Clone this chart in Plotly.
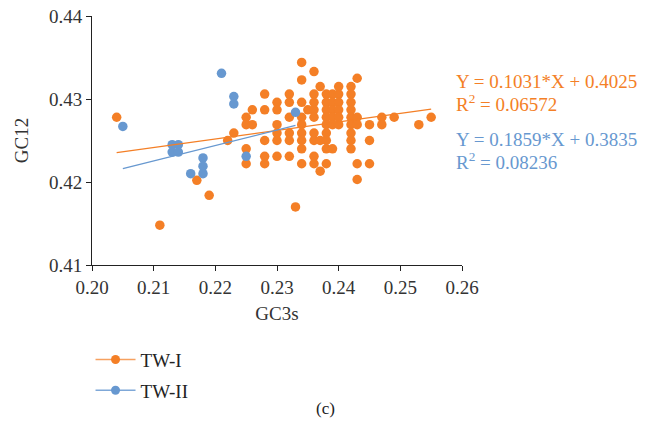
import plotly.graph_objects as go

# ---- data ----
tw1_x = [0.204, 0.211, 0.217, 0.219, 0.222, 0.223,
         0.225, 0.225, 0.225, 0.225,
         0.226, 0.226,
         0.228, 0.228, 0.228, 0.228, 0.228,
         0.230, 0.230, 0.230, 0.230, 0.230, 0.230,
         0.232, 0.232, 0.232, 0.232, 0.232, 0.232,
         0.233,
         0.234, 0.234, 0.234, 0.234, 0.234, 0.234, 0.234, 0.234, 0.234,
         0.235,
         0.236, 0.236, 0.236, 0.236, 0.236, 0.236, 0.236, 0.236, 0.236,
         0.237, 0.237, 0.237,
         0.238, 0.238, 0.238, 0.238, 0.238, 0.238, 0.238, 0.238, 0.238,
         0.239, 0.239, 0.239, 0.239, 0.239, 0.239,
         0.240, 0.240, 0.240, 0.240, 0.240, 0.240,
         0.242, 0.242, 0.242, 0.242, 0.242, 0.242, 0.242, 0.242, 0.242,
         0.243, 0.243, 0.243, 0.243, 0.243,
         0.245, 0.245, 0.245,
         0.247, 0.247,
         0.249, 0.253, 0.255]
tw1_y = [0.4278, 0.4148, 0.4202, 0.4184, 0.4250, 0.4259,
         0.4278, 0.4269, 0.4240, 0.4222,
         0.4287, 0.4269,
         0.4306, 0.4287, 0.4250, 0.4231, 0.4222,
         0.4296, 0.4287, 0.4269, 0.4259, 0.4250, 0.4231,
         0.4306, 0.4296, 0.4278, 0.4259, 0.4250, 0.4231,
         0.4170,
         0.4344, 0.4323, 0.4296, 0.4278, 0.4269, 0.4259, 0.4250, 0.4240, 0.4222,
         0.4287,
         0.4333, 0.4306, 0.4296, 0.4287, 0.4278, 0.4259, 0.4250, 0.4231, 0.4222,
         0.4315, 0.4250, 0.4213,
         0.4306, 0.4296, 0.4287, 0.4278, 0.4269, 0.4259, 0.4250, 0.4240, 0.4222,
         0.4306, 0.4296, 0.4287, 0.4278, 0.4269, 0.4240,
         0.4315, 0.4306, 0.4296, 0.4287, 0.4278, 0.4269,
         0.4315, 0.4306, 0.4296, 0.4287, 0.4278, 0.4269, 0.4259, 0.4250, 0.4240,
         0.4325, 0.4278, 0.4269, 0.4222, 0.4203,
         0.4269, 0.4250, 0.4222,
         0.4278, 0.4269,
         0.4278, 0.4269, 0.4278]

tw2_x = [0.205, 0.213, 0.214, 0.213, 0.214, 0.216, 0.218, 0.218, 0.218,
         0.221, 0.223, 0.223, 0.225, 0.233]
tw2_y = [0.4267, 0.4245, 0.4245, 0.4236, 0.4236, 0.4210, 0.4229, 0.4219, 0.4210,
         0.4331, 0.4303, 0.4294, 0.4231, 0.4284]

series_names = ["TW-I", "TW-II"]
fit_slope = [0.1031, 0.1859]
fit_intercept = [0.4025, 0.3835]
fit_r2 = ["0.06572", "0.08236"]

x_ticks = [0.20, 0.21, 0.22, 0.23, 0.24, 0.25, 0.26]
y_ticks = [0.41, 0.42, 0.43, 0.44]

ORANGE = "#F47F26"
BLUE = "#6798D0"
ORANGE_L = "#F6A160"
BLUE_L = "#7FA8D8"
FONT = "Liberation Serif"

fig = go.Figure()

series = [(tw1_x, tw1_y, ORANGE, ORANGE_L), (tw2_x, tw2_y, BLUE, BLUE_L)]
for i, (xs, ys, col, lcol) in enumerate(series):
    fig.add_trace(go.Scatter(x=xs, y=ys, mode="markers",
                             marker=dict(color=col, size=9.5),
                             showlegend=False, hoverinfo="skip"))
for i, (xs, ys, col, lcol) in enumerate(series):
    x0, x1 = min(xs), max(xs)
    fig.add_trace(go.Scatter(x=[x0, x1],
                             y=[fit_slope[i] * x0 + fit_intercept[i],
                                fit_slope[i] * x1 + fit_intercept[i]],
                             mode="lines", line=dict(color=col, width=1.3),
                             showlegend=False, hoverinfo="skip"))
# legend entries
for i, (xs, ys, col, lcol) in enumerate(series):
    fig.add_trace(go.Scatter(x=[None], y=[None], mode="lines+markers",
                             name=series_names[i], legendgroup=series_names[i],
                             line=dict(color=lcol, width=1.5),
                             marker=dict(color=col, size=9)))

axis_common = dict(showgrid=False, zeroline=False, showline=True,
                   linecolor="#222", linewidth=1, ticks="outside",
                   ticklen=5, tickcolor="#222", ticklabeloverflow="allow",
                   tickfont=dict(family=FONT, size=19, color="#333"),
                   title_font=dict(family=FONT, size=19, color="#333"))

fig.update_xaxes(range=[0.20, 0.26], tickvals=x_ticks,
                 ticktext=[f"{v:.2f}" for v in x_ticks],
                 title_text="GC3s", title_standoff=9, **axis_common)
fig.update_yaxes(range=[0.41, 0.44], tickvals=y_ticks,
                 ticktext=[f"{v:.2f}" for v in y_ticks],
                 title_text="GC12", title_standoff=15, **axis_common)

cols = [ORANGE, BLUE]
ypos = [(0.738, 0.652), (0.505, 0.418)]
for i in range(2):
    fig.add_annotation(xref="paper", yref="paper", x=0.978, y=ypos[i][0],
                       xanchor="left", yanchor="middle", showarrow=False,
                       text=f"Y = {fit_slope[i]:.4f}*X + {fit_intercept[i]:.4f}",
                       font=dict(family=FONT, size=19, color=cols[i]))
    fig.add_annotation(xref="paper", yref="paper", x=0.978, y=ypos[i][1],
                       xanchor="left", yanchor="middle", showarrow=False,
                       text=f"R<sup>2</sup> = {fit_r2[i]}",
                       font=dict(family=FONT, size=19, color=cols[i]))

fig.add_annotation(xref="paper", yref="paper", x=0.630, y=-0.575,
                   xanchor="center", yanchor="middle", showarrow=False,
                   text="(c)", font=dict(family=FONT, size=17, color="#222"))

fig.update_layout(
    width=648, height=441,
    margin=dict(l=92, r=186, t=16, b=176, autoexpand=False),
    plot_bgcolor="white", paper_bgcolor="white",
    showlegend=True,
    legend=dict(x=-0.004, y=-0.304, xanchor="left", yanchor="top",
                font=dict(family=FONT, size=19, color="#222"),
                tracegroupgap=3, itemwidth=40, bgcolor="rgba(0,0,0,0)"),
)

# remove the browser's default 8px body margin so the figure fills the window
fig.write_html("out.html",
               config={"displayModeBar": False},
               post_script="document.body.style.margin='0';document.body.style.overflow='hidden';")
